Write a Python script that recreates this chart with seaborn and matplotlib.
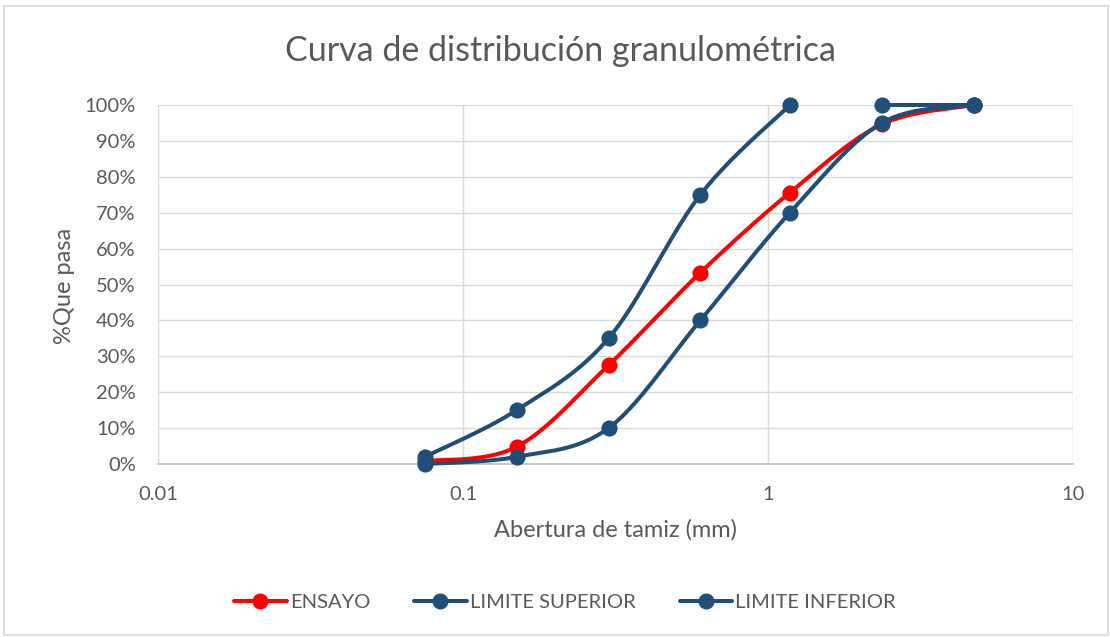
import numpy as np
import matplotlib
matplotlib.use("Agg")
import matplotlib.pyplot as plt
import seaborn as sns
import pandas as pd
from matplotlib.lines import Line2D
from matplotlib.patches import Rectangle
from matplotlib.ticker import FixedLocator, FixedFormatter, NullLocator

# ---------------- data ----------------
sieve_mm = [0.075, 0.15, 0.3, 0.6, 1.18, 2.36, 4.75]
ensayo = [0.8, 4.8, 27.5, 53.3, 75.6, 94.6, 100.0]
lim_sup = [2.0, 15.0, 35.0, 75.0, 100.0, 100.0, 100.0]
lim_inf = [0.0, 2.0, 10.0, 40.0, 70.0, 95.0, 100.0]
sup_break_after = 4          # the upper-limit line is interrupted after 1.18 mm
series_names = ["ENSAYO", "LIMITE SUPERIOR", "LIMITE INFERIOR"]
x_ticks = [0.01, 0.1, 1, 10]
x_tick_labels = ["0.01", "0.1", "1", "10"]
y_ticks = list(range(0, 101, 10))
y_tick_labels = [f"{v}%" for v in y_ticks]

RED = "#FF0000"
BLUE = "#1F4E79"
GREY_TXT = "#595959"
GRID = "#D9D9D9"

sns.set_theme(style="white")
plt.rcParams["font.family"] = ["Lato", "DejaVu Sans"]

W, H = 1110, 637
fig = plt.figure(figsize=(W / 100, H / 100), dpi=100)
ax = fig.add_axes([158 / W, 1 - 464 / H, (1073 - 158) / W, (464 - 105) / H])
ax.set_xscale("log")
ax.set_xlim(0.01, 10)
ax.set_ylim(0, 100)

# chart-area border
fig.patches.append(Rectangle((4 / W, 2 / H), 1 - 6 / W, 1 - 8 / H, transform=fig.transFigure,
                             fill=False, edgecolor=GRID, linewidth=1.2))


def smooth(xs, ys, n=40):
    """Excel-like smoothed line (Catmull-Rom Bezier) computed in display space."""
    pts = ax.transData.transform(np.column_stack([xs, ys]))
    P = np.vstack([pts[0], pts, pts[-1]])
    out = []
    t = np.linspace(0, 1, n)[:, None]
    for i in range(1, len(P) - 2):
        p0, p1, p2, p3 = P[i - 1], P[i], P[i + 1], P[i + 2]
        c1 = p1 + (p2 - p0) / 6.0
        c2 = p2 - (p3 - p1) / 6.0
        seg = ((1 - t) ** 3) * p1 + 3 * ((1 - t) ** 2) * t * c1 + 3 * (1 - t) * t ** 2 * c2 + t ** 3 * p2
        out.append(seg if i == 1 else seg[1:])
    out = np.vstack(out)
    d = ax.transData.inverted().transform(out)
    return d[:, 0], d[:, 1]


def draw(xs, ys, color, z, pieces):
    for a, b in pieces:
        sx, sy = smooth(xs[a:b], ys[a:b])
        df = pd.DataFrame({"x": sx, "y": sy})
        sns.lineplot(data=df, x="x", y="y", ax=ax, sort=False, estimator=None,
                     color=color, linewidth=2.9, zorder=z)
    for l in ax.lines[-len(pieces):]:
        l.set_clip_on(False)
        l.set_solid_capstyle("round")
    sns.scatterplot(x=xs, y=ys, ax=ax, color=color, s=135, edgecolor=color,
                    linewidth=0, zorder=z + 0.5, legend=False)
    ax.collections[-1].set_clip_on(False)


n = len(sieve_mm)
draw(sieve_mm, ensayo, RED, 3, [(0, n)])
draw(sieve_mm, lim_sup, BLUE, 4, [(0, sup_break_after + 1), (sup_break_after + 1, n)])
draw(sieve_mm, lim_inf, BLUE, 5, [(0, n)])

# grid & axes
ax.xaxis.set_major_locator(FixedLocator(x_ticks))
ax.xaxis.set_major_formatter(FixedFormatter(x_tick_labels))
ax.xaxis.set_minor_locator(NullLocator())
ax.yaxis.set_major_locator(FixedLocator(y_ticks))
ax.yaxis.set_major_formatter(FixedFormatter(y_tick_labels))
ax.grid(True, which="major", color=GRID, linewidth=1.0, zorder=0)
ax.set_axisbelow(True)
for s in ["top", "right", "left"]:
    ax.spines[s].set_visible(False)
ax.spines["bottom"].set_color("#BFBFBF")
ax.spines["bottom"].set_linewidth(1.2)
ax.tick_params(axis="both", length=0, labelsize=14.5, labelcolor=GREY_TXT)
ax.tick_params(axis="y", pad=16)
ax.tick_params(axis="x", pad=16)

ax.set_xlabel("Abertura de tamiz (mm)", fontsize=17, color=GREY_TXT)
ax.set_ylabel("%Que pasa", fontsize=17, color=GREY_TXT)
ax.xaxis.set_label_coords((615 - 158) / (1073 - 158), -(519 - 464) / (464 - 105))
ax.yaxis.set_label_coords(-(158 - 75) / (1073 - 158), (464 - 286) / (464 - 105))
fig.text(561 / W, 1 - 51 / H, "Curva de distribución granulométrica", ha="center", va="center",
         fontsize=24.5, color=GREY_TXT)

handles = [Line2D([], [], color=c, linewidth=2.9, marker="o", markersize=10.5)
           for c in (RED, BLUE, BLUE)]
fig.legend(handles, series_names, loc="center", bbox_to_anchor=(565 / W, 1 - 602 / H), ncol=3,
           frameon=False, fontsize=14.5, labelcolor=GREY_TXT, handlelength=2.6,
           handletextpad=0.15, columnspacing=2.2)

fig.savefig("out.png", dpi=100)
